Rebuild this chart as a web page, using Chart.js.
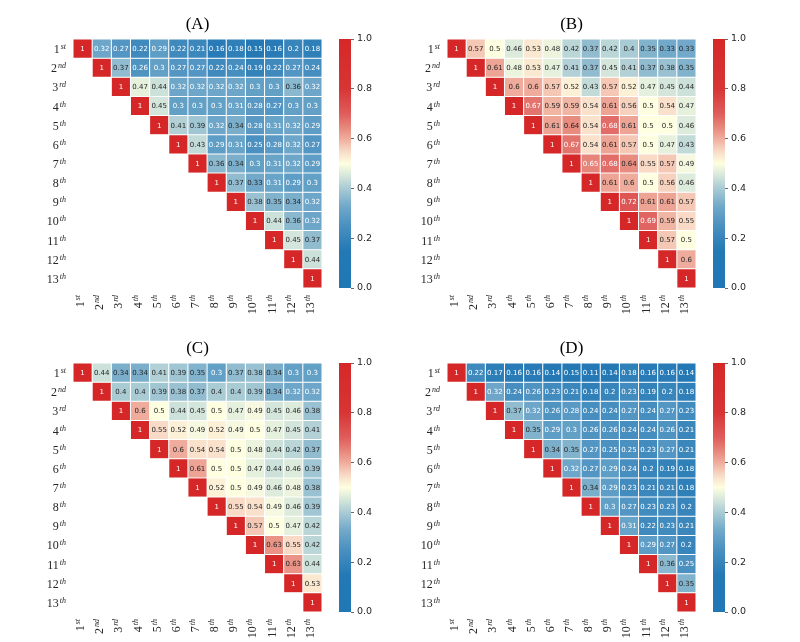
<!DOCTYPE html>
<html>
<head>
<meta charset="utf-8">
<script src="https://cdn.jsdelivr.net/npm/chart.js@4.4.1/dist/chart.umd.min.js"></script>
<style>
  body { margin: 0; background: #fff; }
  #wrap { position: relative; width: 800px; height: 642px; }
  canvas { position: absolute; }
</style>
</head>
<body>
<div id="wrap">
  <canvas id="heatA" width="340" height="324" style="left:0;top:0"></canvas>
  <canvas id="barA" width="70" height="324" style="left:330px;top:0"></canvas>
  <canvas id="heatB" width="340" height="324" style="left:380px;top:0"></canvas>
  <canvas id="barB" width="70" height="324" style="left:704px;top:0"></canvas>
  <canvas id="heatC" width="340" height="324" style="left:0;top:324px"></canvas>
  <canvas id="barC" width="70" height="324" style="left:330px;top:324px"></canvas>
  <canvas id="heatD" width="340" height="324" style="left:380px;top:324px"></canvas>
  <canvas id="barD" width="70" height="324" style="left:704px;top:324px"></canvas>
</div>
<script>
// tick labels
const rankNumbers = ["1", "2", "3", "4", "5", "6", "7", "8", "9", "10", "11", "12", "13"];
const rankSuffixes = ["st", "nd", "rd", "th", "th", "th", "th", "th", "th", "th", "th", "th", "th"];
const colorbarTicks = [0, 0.2, 0.4, 0.6, 0.8, 1.0];

// upper triangle, each row starts at the diagonal
const valuesA = [
  [1, 0.32, 0.27, 0.22, 0.29, 0.22, 0.21, 0.16, 0.18, 0.15, 0.16, 0.2, 0.18],
  [1, 0.37, 0.26, 0.3, 0.27, 0.27, 0.22, 0.24, 0.19, 0.22, 0.27, 0.24],
  [1, 0.47, 0.44, 0.32, 0.32, 0.32, 0.32, 0.3, 0.3, 0.36, 0.32],
  [1, 0.45, 0.3, 0.3, 0.3, 0.31, 0.28, 0.27, 0.3, 0.3],
  [1, 0.41, 0.39, 0.32, 0.34, 0.28, 0.31, 0.32, 0.29],
  [1, 0.43, 0.29, 0.31, 0.25, 0.28, 0.32, 0.27],
  [1, 0.36, 0.34, 0.3, 0.31, 0.32, 0.29],
  [1, 0.37, 0.33, 0.31, 0.29, 0.3],
  [1, 0.38, 0.35, 0.34, 0.32],
  [1, 0.44, 0.36, 0.32],
  [1, 0.45, 0.37],
  [1, 0.44],
  [1]
];
const valuesB = [
  [1, 0.57, 0.5, 0.46, 0.53, 0.48, 0.42, 0.37, 0.42, 0.4, 0.35, 0.33, 0.33],
  [1, 0.61, 0.48, 0.53, 0.47, 0.41, 0.37, 0.45, 0.41, 0.37, 0.38, 0.35],
  [1, 0.6, 0.6, 0.57, 0.52, 0.43, 0.57, 0.52, 0.47, 0.45, 0.44],
  [1, 0.67, 0.59, 0.59, 0.54, 0.61, 0.56, 0.5, 0.54, 0.47],
  [1, 0.61, 0.64, 0.54, 0.68, 0.61, 0.5, 0.5, 0.46],
  [1, 0.67, 0.54, 0.61, 0.57, 0.5, 0.47, 0.43],
  [1, 0.65, 0.68, 0.64, 0.55, 0.57, 0.49],
  [1, 0.61, 0.6, 0.5, 0.56, 0.46],
  [1, 0.72, 0.61, 0.61, 0.57],
  [1, 0.69, 0.59, 0.55],
  [1, 0.57, 0.5],
  [1, 0.6],
  [1]
];
const valuesC = [
  [1, 0.44, 0.34, 0.34, 0.41, 0.39, 0.35, 0.3, 0.37, 0.38, 0.34, 0.3, 0.3],
  [1, 0.4, 0.4, 0.39, 0.38, 0.37, 0.4, 0.4, 0.39, 0.34, 0.32, 0.32],
  [1, 0.6, 0.5, 0.44, 0.45, 0.5, 0.47, 0.49, 0.45, 0.46, 0.38],
  [1, 0.55, 0.52, 0.49, 0.52, 0.49, 0.5, 0.47, 0.45, 0.41],
  [1, 0.6, 0.54, 0.54, 0.5, 0.48, 0.44, 0.42, 0.37],
  [1, 0.61, 0.5, 0.5, 0.47, 0.44, 0.46, 0.39],
  [1, 0.52, 0.5, 0.49, 0.46, 0.48, 0.38],
  [1, 0.55, 0.54, 0.49, 0.46, 0.39],
  [1, 0.57, 0.5, 0.47, 0.42],
  [1, 0.63, 0.55, 0.42],
  [1, 0.63, 0.44],
  [1, 0.53],
  [1]
];
const valuesD = [
  [1, 0.22, 0.17, 0.16, 0.16, 0.14, 0.15, 0.11, 0.14, 0.18, 0.16, 0.16, 0.14],
  [1, 0.32, 0.24, 0.26, 0.23, 0.21, 0.18, 0.2, 0.23, 0.19, 0.2, 0.18],
  [1, 0.37, 0.32, 0.26, 0.28, 0.24, 0.24, 0.27, 0.24, 0.27, 0.23],
  [1, 0.35, 0.29, 0.3, 0.26, 0.26, 0.24, 0.24, 0.26, 0.21],
  [1, 0.34, 0.35, 0.27, 0.25, 0.25, 0.23, 0.27, 0.21],
  [1, 0.32, 0.27, 0.29, 0.24, 0.2, 0.19, 0.18],
  [1, 0.34, 0.29, 0.23, 0.21, 0.21, 0.18],
  [1, 0.3, 0.27, 0.23, 0.23, 0.2],
  [1, 0.31, 0.22, 0.23, 0.21],
  [1, 0.29, 0.27, 0.2],
  [1, 0.36, 0.25],
  [1, 0.35],
  [1]
];

// colormap: blue -> pale yellow -> red
const cmapStops = [
  [0.00, "#1f77b4"], [0.15, "#2479b5"], [0.25, "#4a90c0"], [0.33, "#72a9ca"],
  [0.40, "#a9cbd4"], [0.45, "#d4e6db"], [0.50, "#fefee0"], [0.55, "#f8dac6"],
  [0.60, "#efac9c"], [0.65, "#e68479"], [0.70, "#df5d5c"], [0.80, "#d73535"],
  [1.00, "#d62728"]
];

function hexToRgb(h) {
  return [parseInt(h.slice(1, 3), 16), parseInt(h.slice(3, 5), 16), parseInt(h.slice(5, 7), 16)];
}

function cmap(v) {
  for (let k = 1; k < cmapStops.length; k++) {
    if (v <= cmapStops[k][0]) {
      const [v0, c0] = cmapStops[k - 1];
      const [v1, c1] = cmapStops[k];
      const t = (v - v0) / (v1 - v0);
      const a = hexToRgb(c0), b = hexToRgb(c1);
      const rgb = a.map((x, n) => Math.round(x + (b[n] - x) * t));
      return "rgb(" + rgb.join(",") + ")";
    }
  }
  return cmapStops[cmapStops.length - 1][1];
}

const TEXT_DARK = "#262626";

// "1" + superscript "st", drawn right-aligned at the origin
function drawOrdinal(ctx, i) {
  ctx.font = "12px 'Liberation Serif'";
  const w1 = ctx.measureText(rankNumbers[i]).width;
  ctx.font = "italic 8px 'Liberation Serif'";
  const w2 = ctx.measureText(rankSuffixes[i]).width;
  const x0 = -(w1 + w2 + 1);
  ctx.textAlign = "left";
  ctx.textBaseline = "alphabetic";
  ctx.font = "12px 'Liberation Serif'";
  ctx.fillText(rankNumbers[i], x0, 0);
  ctx.font = "italic 8px 'Liberation Serif'";
  ctx.fillText(rankSuffixes[i], x0 + w1 + 1, -4);
}

const heatLabels = {
  id: "heatLabels",
  afterDatasetsDraw(chart, args, opts) {
    const ctx = chart.ctx;
    const vals = opts.values;
    const area = chart.chartArea;
    ctx.save();

    // cell values
    ctx.font = "7px 'DejaVu Sans'";
    ctx.textAlign = "center";
    ctx.textBaseline = "middle";
    chart.data.datasets.forEach((ds, j) => {
      const meta = chart.getDatasetMeta(j);
      meta.data.forEach((el, i) => {
        if (j < i) return;
        const v = vals[i][j - i];
        const p = el.getCenterPoint();
        ctx.fillStyle = (v < 0.33 || v >= 0.65) ? "#ffffff" : TEXT_DARK;
        ctx.fillText(String(v), p.x, p.y + 0.5);
      });
    });

    // row labels
    const yScale = chart.scales.y;
    const xScale = chart.scales.x;
    ctx.fillStyle = TEXT_DARK;
    rankNumbers.forEach((n, i) => {
      ctx.save();
      ctx.translate(area.left - 7, yScale.getPixelForTick(i) + 4.5);
      drawOrdinal(ctx, i);
      ctx.restore();
    });

    // column labels, rotated
    rankNumbers.forEach((n, i) => {
      ctx.save();
      ctx.translate(xScale.getPixelForValue(i + 0.5) + 1.5, area.bottom + 7);
      ctx.rotate(-Math.PI / 2);
      drawOrdinal(ctx, i);
      ctx.restore();
    });

    // panel title
    ctx.fillStyle = "#000";
    ctx.font = "17px 'Liberation Serif'";
    ctx.textAlign = "center";
    ctx.textBaseline = "alphabetic";
    ctx.fillText(opts.title, (area.left + area.right) / 2, area.top - 10);
    ctx.restore();
  }
};

function makeHeatmap(id, vals, title, padLeft, padRight) {
  const datasets = rankNumbers.map((n, j) => ({
    data: rankNumbers.map((m, i) => (j >= i ? [j, j + 1] : null)),
    backgroundColor: rankNumbers.map((m, i) => (j >= i ? cmap(vals[i][j - i]) : "rgba(0,0,0,0)")),
    borderColor: "rgba(255,255,255,0.75)",
    borderWidth: 0.5,
    borderSkipped: false,
    inflateAmount: 0,
    grouped: false,
    barPercentage: 1,
    categoryPercentage: 1
  }));

  new Chart(document.getElementById(id), {
    type: "bar",
    data: { labels: rankNumbers, datasets: datasets },
    options: {
      indexAxis: "y",
      responsive: false,
      animation: false,
      layout: { padding: { left: padLeft, right: padRight, top: 39, bottom: 36 } },
      scales: {
        x: { type: "linear", min: 0, max: 13, display: false },
        y: { type: "category", display: false }
      },
      plugins: {
        legend: { display: false },
        tooltip: { enabled: false },
        heatLabels: { values: vals, title: title }
      }
    },
    plugins: [heatLabels]
  });
}

function colorbarFill(context) {
  const chart = context.chart;
  const area = chart.chartArea;
  if (!area) return cmapStops[0][1];
  const g = chart.ctx.createLinearGradient(0, area.bottom, 0, area.top);
  cmapStops.forEach(s => g.addColorStop(s[0], s[1]));
  return g;
}

function makeColorbar(id) {
  new Chart(document.getElementById(id), {
    type: "bar",
    data: {
      labels: [""],
      datasets: [{
        data: [[colorbarTicks[0], colorbarTicks[colorbarTicks.length - 1]]],
        backgroundColor: colorbarFill,
        borderWidth: 0,
        barPercentage: 1,
        categoryPercentage: 1
      }]
    },
    options: {
      responsive: false,
      animation: false,
      layout: { padding: { left: 9, right: 9, top: 39, bottom: 36 } },
      scales: {
        x: { display: false },
        y: {
          position: "right",
          min: 0,
          max: 1,
          afterFit: s => { s.width = 40; },
          afterBuildTicks: s => { s.ticks = colorbarTicks.map(v => ({ value: v })); },
          ticks: {
            callback: v => v.toFixed(1),
            color: TEXT_DARK,
            padding: 3,
            font: { family: "'DejaVu Sans'", size: 9.5 }
          },
          grid: { drawOnChartArea: false, tickLength: 3, tickColor: "#444", lineWidth: 0.8 },
          border: { display: false }
        }
      },
      plugins: { legend: { display: false }, tooltip: { enabled: false } }
    }
  });
}

makeHeatmap("heatA", valuesA, "(A)", 73, 18);
makeHeatmap("heatB", valuesB, "(B)", 67, 24);
makeHeatmap("heatC", valuesC, "(C)", 73, 18);
makeHeatmap("heatD", valuesD, "(D)", 67, 24);
makeColorbar("barA");
makeColorbar("barB");
makeColorbar("barC");
makeColorbar("barD");
</script>
</body>
</html>
